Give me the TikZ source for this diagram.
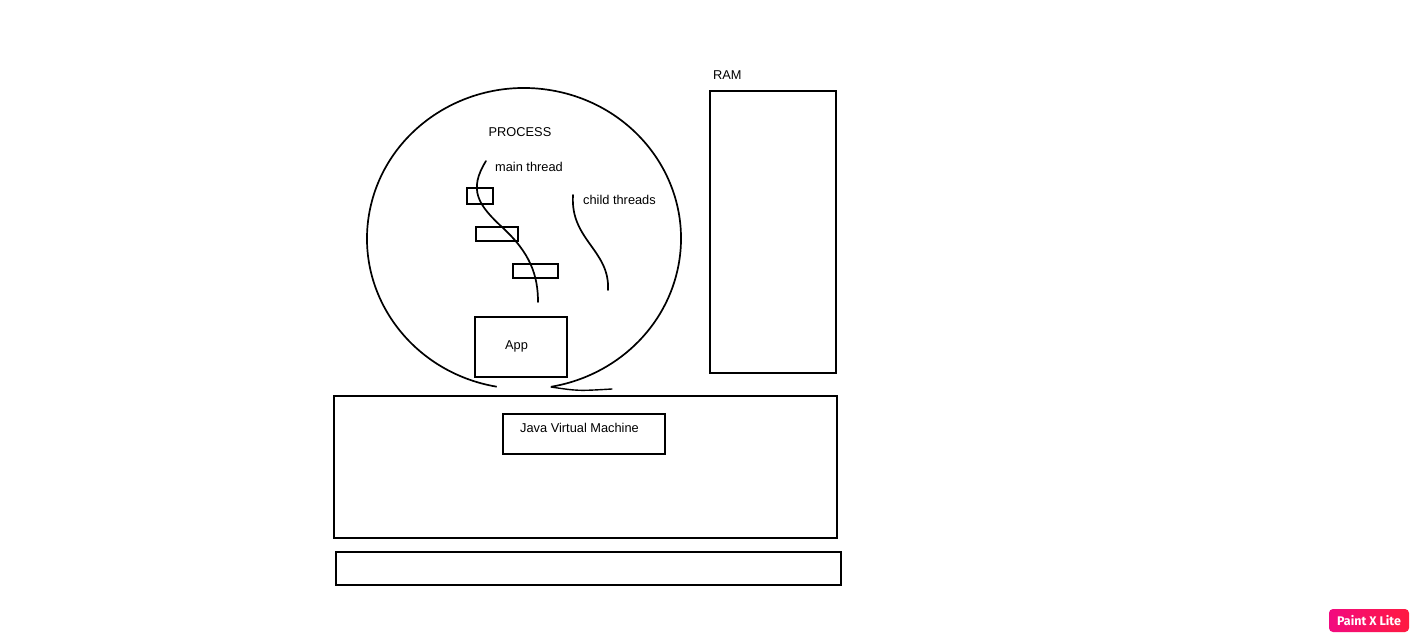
\documentclass[tikz,border=0pt]{standalone}
\usepackage{fontspec}
\setmainfont{Liberation Sans}
\newfontfamily\badgefont{Fira Sans}
\definecolor{badgeL}{HTML}{F20A80}
\definecolor{badgeR}{HTML}{FF1A40}
\begin{document}
\begin{tikzpicture}[x=1pt,y=-1pt,
  shp/.style={draw=black,line width=1.7pt},
  lbl/.style={inner sep=0pt,anchor=west,font=\fontsize{12.8}{15}\selectfont},
  thr/.style={draw=black,line width=1.7pt,line cap=round}]
\useasboundingbox[fill=white] (0,0) rectangle (1419,642);
% process circle (open at bottom)
\draw[shp] (524,238.5) ++(100:157 and 150.5) arc[start angle=100,end angle=440,x radius=157,y radius=150.5];
\draw[line width=1.4pt,line cap=round] (551,387) .. controls (578,391) .. (612,389);
\node[lbl,anchor=center] (proc) at (520,132.5) {PROCESS};
\node[lbl] (mainlbl) at (495,166.5) {main thread};
\node[lbl] (childlbl) at (583,199.5) {child threads};
% threads
\draw[thr] (486,161) .. controls (468,190) and (478,205) .. (503,228) .. controls (530,253) and (538,275) .. (538,302);
\draw[thr] (573,195) .. controls (570,240) and (610,250) .. (608,290);
% small rects
\draw[shp] (467,188) rectangle (493,204);
\draw[shp] (476,227) rectangle (518,241);
\draw[shp] (513,264) rectangle (558,278);
% app
\draw[shp] (475,317) rectangle (567,377);
\node[lbl] (app) at (505,346) {App};
% RAM
\node[lbl] (ramlbl) at (713,75) {RAM};
\draw[shp] (710,91) rectangle (836,373);
% OS box
\draw[shp] (334,396) rectangle (837,538);
\draw[shp] (503,414) rectangle (665,454);
\node[lbl] (jvm) at (520,427.5) {Java Virtual Machine};
% hardware box
\draw[shp] (336,552) rectangle (841,585);
% badge
\shade[left color=badgeL,right color=badgeR,rounded corners=4pt] (1329,609) rectangle (1409,632);
\node[inner sep=0pt,text=white,font=\badgefont\bfseries\fontsize{12.5}{14}\selectfont] (badge) at (1369,620.5) {Paint X Lite};
\end{tikzpicture}
\end{document}
